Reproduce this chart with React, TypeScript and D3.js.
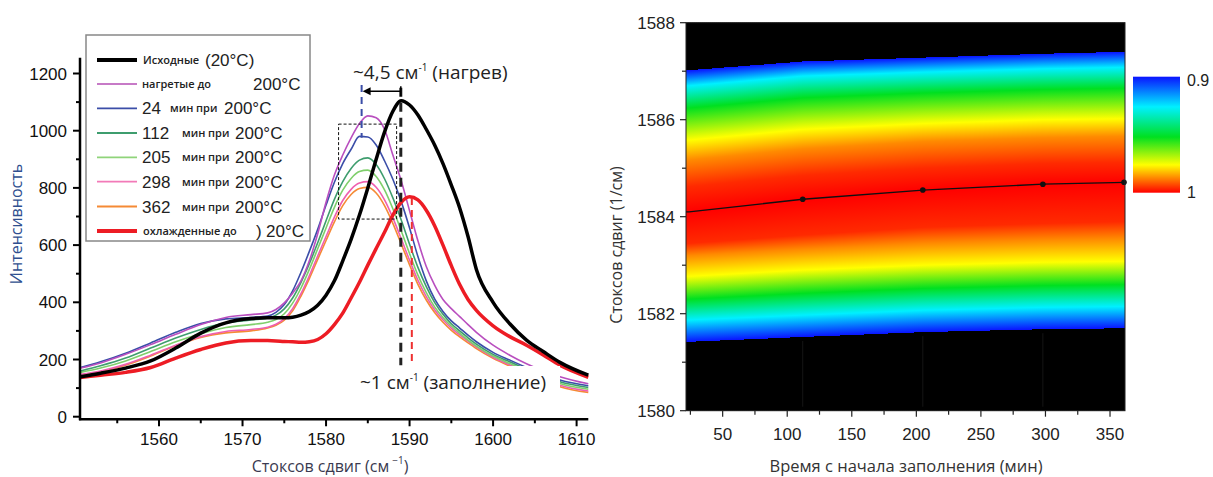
import React from "react";
import * as d3 from "d3";

// ---------- Left chart data (Raman spectra) ----------
const wavenumbers = [1550.6, 1553, 1556, 1559, 1562, 1565, 1568, 1571, 1573, 1574, 1575, 1576, 1577, 1578, 1579, 1580, 1581, 1582, 1583, 1584, 1585, 1586, 1587, 1588, 1589, 1590, 1591, 1592, 1593, 1594, 1595, 1596, 1597, 1598, 1600, 1602, 1604, 1606, 1608, 1611.4];
const intInitial = [140, 152, 170, 195, 240, 292, 328, 343, 346, 346, 346, 348, 355, 368, 390, 425, 475, 545, 620, 705, 800, 900, 995, 1068, 1105, 1090, 1055, 1005, 950, 885, 810, 730, 630, 515, 400, 325, 268, 228, 190, 145];
const intHeated = [170, 188, 218, 252, 288, 322, 347, 357, 363, 375, 398, 432, 475, 545, 640, 750, 845, 915, 975, 1025, 1052, 1045, 1005, 915, 825, 720, 615, 525, 460, 410, 378, 350, 322, 295, 250, 215, 185, 160, 140, 115];
const int24 = [172, 192, 222, 258, 295, 326, 342, 347, 352, 365, 392, 440, 505, 578, 655, 740, 820, 885, 935, 980, 978, 950, 895, 830, 752, 660, 560, 475, 412, 368, 335, 310, 285, 262, 225, 198, 172, 148, 128, 108];
const int112 = [160, 178, 205, 240, 275, 305, 328, 338, 345, 355, 377, 415, 470, 535, 608, 685, 760, 822, 868, 897, 905, 882, 832, 765, 688, 603, 522, 455, 400, 358, 325, 300, 276, 254, 218, 192, 166, 143, 122, 102];
const int205 = [155, 170, 195, 228, 262, 290, 312, 322, 330, 340, 360, 397, 450, 515, 587, 660, 732, 792, 833, 857, 862, 840, 793, 727, 650, 570, 495, 434, 384, 347, 317, 292, 268, 247, 212, 186, 161, 138, 116, 96];
const int298 = [148, 160, 183, 215, 250, 280, 298, 305, 313, 323, 343, 378, 430, 493, 562, 630, 698, 756, 795, 817, 822, 802, 758, 695, 622, 547, 477, 420, 374, 339, 310, 286, 264, 243, 208, 181, 157, 134, 110, 90];
const int362 = [143, 157, 180, 212, 248, 277, 293, 300, 310, 320, 338, 370, 422, 483, 550, 616, 681, 738, 777, 798, 802, 782, 738, 676, 604, 531, 463, 408, 364, 330, 302, 279, 258, 238, 204, 177, 153, 130, 105, 85];
const intCooled = [137, 145, 155, 172, 205, 235, 258, 266, 266, 265, 263, 262, 260, 262, 270, 290, 322, 362, 415, 470, 530, 588, 645, 705, 750, 769, 758, 722, 668, 600, 528, 462, 410, 372, 318, 280, 250, 216, 180, 138];

const leftYTicks = [0, 200, 400, 600, 800, 1000, 1200];
const leftYMinor = [100, 300, 500, 700, 900, 1100];
const leftXTicks = [1560, 1570, 1580, 1590, 1600, 1610];
const leftXMinor = [1555, 1565, 1575, 1585, 1595, 1605];

const legendNames = ["Исходные", "нагретые до", "мин при", "мин при", "мин при", "мин при", "мин при", "охлажденные до"];
const legendNumbers = ["", "", "24", "112", "205", "298", "362", ""];
const legendTemps = ["(20°C)", "200°C", "200°C", "200°C", "200°C", "200°C", "200°C", "20°C"];

// annotation positions (data space)
const heatPeak = 1584.26;
const initialPeak = 1588.95;
const cooledPeak = 1590.27;
const zoomBoxW = [1581.5, 1588.45];
const zoomBoxI = [691, 1023];

// ---------- Right chart data (normalized map) ----------
const heatTimes = [24, 112, 205, 298, 362];
const peakCenter = [1584.10, 1584.36, 1584.55, 1584.67, 1584.71];
const contourLevels = [0, 0.26, 0.52, 0.76, 0.87, 0.96];
const upperContours = [
  [1587.02, 1587.20, 1587.28, 1587.36, 1587.40],
  [1586.70, 1586.90, 1586.98, 1587.05, 1587.08],
  [1586.24, 1586.45, 1586.55, 1586.62, 1586.65],
  [1585.58, 1585.80, 1585.92, 1586.00, 1586.02],
  [1585.17, 1585.40, 1585.55, 1585.63, 1585.66],
  [1584.62, 1584.85, 1585.00, 1585.10, 1585.12],
];
const lowerContours = [
  [1581.42, 1581.52, 1581.62, 1581.68, 1581.70],
  [1581.87, 1581.97, 1582.07, 1582.13, 1582.15],
  [1582.30, 1582.42, 1582.52, 1582.58, 1582.60],
  [1582.77, 1582.90, 1583.00, 1583.06, 1583.08],
  [1583.20, 1583.33, 1583.45, 1583.52, 1583.55],
  [1583.45, 1583.62, 1583.78, 1583.86, 1583.90],
];
const rainbowPos = [0, 0.26, 0.52, 0.76, 0.87, 1];
const rainbowColors = ["#0a14ff", "#00f0ff", "#00e020", "#ffff00", "#ff8a00", "#ff0000"];
const rightXTicks = [50, 100, 150, 200, 250, 300, 350];
const rightXMinor = [25, 75, 125, 175, 225, 275, 325];
const rightYTicks = [1580, 1582, 1584, 1586, 1588];
const rightYMinor = [1581, 1583, 1585, 1587];
const colorbarLabels = ["0.9", "1"];

const tickFont = "'Liberation Sans', Arial, sans-serif";
const textFont = "'Open Sans', 'Noto Sans', sans-serif";

export default function App() {
  // ---- left scales
  const xL = d3.scaleLinear().domain([1550.6, 1611.4]).range([80.5, 588.3]);
  const yL = d3.scaleLinear().domain([0, 1200]).range([416.7, 73.5]);
  const axisY = yL(-9);
  const axisTop = yL(1255);

  const line = (vals: number[]) =>
    d3
      .line<number>()
      .x((_, i) => xL(wavenumbers[i]))
      .y((v) => yL(v))
      .curve(d3.curveMonotoneX)(vals) || "";

  const spectra = [
    { vals: int362, color: "#f58a35", w: 1.6 },
    { vals: int298, color: "#ef5fae", w: 1.6 },
    { vals: int205, color: "#7fcf6b", w: 1.6 },
    { vals: int112, color: "#3e9d6e", w: 1.6 },
    { vals: int24, color: "#3b4ea8", w: 1.6 },
    { vals: intHeated, color: "#b94fbf", w: 1.6 },
    { vals: intCooled, color: "#ed1c24", w: 3.5 },
    { vals: intInitial, color: "#000000", w: 3.5 },
  ];
  const legendStyle = [
    { color: "#000000", w: 4 },
    { color: "#c77ac7", w: 1.8 },
    { color: "#3b4ea8", w: 1.8 },
    { color: "#3e9d6e", w: 1.8 },
    { color: "#8fd47a", w: 1.8 },
    { color: "#f27ab8", w: 1.8 },
    { color: "#f58a35", w: 1.8 },
    { color: "#ed1c24", w: 4 },
  ];
  const legendRowY = [60, 84, 108.3, 133, 157.3, 181.7, 206.5, 231];
  const legendTempX = [205, 253, 224, 235, 235, 235, 235, 266];
  const legendNameX = [143, 142, 170, 182, 182, 182, 182, 143];

  // ---- right scales
  const xR = d3.scaleLinear().domain([21.6, 361.6]).range([686, 1125]);
  const yR = d3.scaleLinear().domain([1580, 1588]).range([410.7, 22.7]);
  const pTop = yR(1588);
  const pBot = yR(1580);
  const pH = pBot - pTop;
  const rainbow = d3
    .scaleLinear<string>()
    .domain(rainbowPos)
    .range(rainbowColors)
    .interpolate(d3.interpolateRgb);
  const tInterp = (arr: number[]) => d3.scaleLinear().domain(heatTimes).range(arr).clamp(true);
  const upperFns = upperContours.map(tInterp);
  const lowerFns = lowerContours.map(tInterp);
  const centerFn = tInterp(peakCenter);

  const stripW = 2;
  const strips: { x: number; stops: { o: number; c: string }[] }[] = [];
  for (let px = 686; px < 1125; px += stripW) {
    const t = xR.invert(px + stripW / 2);
    const off = (w: number) => Math.max(0, Math.min(1, (yR(w) - pTop) / pH));
    const stops: { o: number; c: string }[] = [];
    stops.push({ o: 0, c: "#000" });
    stops.push({ o: off(upperFns[0](t)), c: "#000" });
    contourLevels.forEach((lv, k) => stops.push({ o: off(upperFns[k](t)), c: rainbow(lv) }));
    stops.push({ o: off(centerFn(t)), c: rainbow(1) });
    for (let k = contourLevels.length - 1; k >= 0; k--) stops.push({ o: off(lowerFns[k](t)), c: rainbow(contourLevels[k]) });
    stops.push({ o: off(lowerFns[0](t)), c: "#000" });
    stops.push({ o: 1, c: "#000" });
    strips.push({ x: px, stops });
  }

  const centerLine =
    d3
      .line<number>()
      .x((t) => xR(t))
      .y((t) => yR(centerFn(t)))([xR.domain()[0], ...heatTimes.slice(0, 4), xR.domain()[1]]) || "";

  const cbX = 1133;
  const cbY0 = 76.7;
  const cbY1 = 192.7;

  return (
    <svg width={1213} height={477} style={{ position: "absolute", left: 0, top: 0, background: "#fff" }}>
      <defs>
        {strips.map((s, i) => (
          <linearGradient key={i} id={`hs${i}`} gradientUnits="userSpaceOnUse" x1={0} y1={pTop} x2={0} y2={pBot}>
            {s.stops.map((st, j) => (
              <stop key={j} offset={st.o} stopColor={st.c} />
            ))}
          </linearGradient>
        ))}
        <linearGradient id="cbar" x1={0} y1={0} x2={0} y2={1}>
          {rainbowPos.map((p, i) => (
            <stop key={i} offset={p} stopColor={rainbowColors[i]} />
          ))}
        </linearGradient>
      </defs>

      {/* ================= LEFT CHART ================= */}
      <g>
        {spectra.map((s, i) => (
          <path key={i} d={line(s.vals)} fill="none" stroke={s.color} strokeWidth={s.w} strokeLinejoin="round" />
        ))}

        {/* dashed zoom box */}
        <rect
          x={xL(zoomBoxW[0])}
          y={yL(zoomBoxI[1])}
          width={xL(zoomBoxW[1]) - xL(zoomBoxW[0])}
          height={yL(zoomBoxI[0]) - yL(zoomBoxI[1])}
          fill="none"
          stroke="#111"
          strokeWidth={1}
          strokeDasharray="3,2"
        />
        {/* peak markers */}
        <line x1={xL(heatPeak)} x2={xL(heatPeak)} y1={yL(1160)} y2={yL(975)} stroke="#3b4ea8" strokeWidth={2} strokeDasharray="7,5" />
        <line x1={xL(initialPeak)} x2={xL(initialPeak)} y1={yL(1150)} y2={yL(180)} stroke="#222" strokeWidth={3} strokeDasharray="9,6" />
        <line x1={xL(cooledPeak)} x2={xL(cooledPeak)} y1={yL(765)} y2={yL(180)} stroke="#ee3030" strokeWidth={2} strokeDasharray="7,5" />
        {/* arrow */}
        <line x1={xL(heatPeak) + 7} x2={xL(initialPeak)} y1={yL(1138)} y2={yL(1138)} stroke="#000" strokeWidth={1.5} />
        <path d={`M${xL(heatPeak) + 1},${yL(1138)} l8,-4 l0,8 z`} fill="#000" />
        <line x1={xL(initialPeak)} x2={xL(initialPeak)} y1={yL(1138) - 5} y2={yL(1138) + 5} stroke="#000" strokeWidth={1.5} />

        {/* annotation texts */}
        <text x={353} y={79} fontFamily={textFont} fontSize={19} fill="#222">
          ~4,5 см<tspan dy={-8} fontSize={10}>-1</tspan>
          <tspan dy={8}> (нагрев)</tspan>
        </text>
        <rect x={356} y={366} width={204} height={31} fill="#fff" />
        <text x={360} y={389} fontFamily={textFont} fontSize={19} fill="#222">
          ~1 см<tspan dy={-8} fontSize={10}>-1</tspan>
          <tspan dy={8}> (заполнение)</tspan>
        </text>

        {/* axes */}
        <line x1={80} x2={80} y1={axisTop} y2={axisY + 1} stroke="#000" strokeWidth={2.5} />
        <line x1={79} x2={588.3} y1={axisY} y2={axisY} stroke="#000" strokeWidth={2.5} />
        {leftYTicks.map((v) => (
          <g key={v}>
            <line x1={73} x2={80} y1={yL(v)} y2={yL(v)} stroke="#000" strokeWidth={2} />
            <text x={67} y={yL(v) + 6} textAnchor="end" fontFamily={tickFont} fontSize={17} fill="#111">
              {v}
            </text>
          </g>
        ))}
        {leftYMinor.map((v) => (
          <line key={v} x1={76} x2={80} y1={yL(v)} y2={yL(v)} stroke="#000" strokeWidth={2} />
        ))}
        {leftXTicks.map((v) => (
          <g key={v}>
            <line x1={xL(v)} x2={xL(v)} y1={axisY} y2={axisY + 7} stroke="#000" strokeWidth={2} />
            <text x={xL(v)} y={445} textAnchor="middle" fontFamily={tickFont} fontSize={17} fill="#111">
              {v}
            </text>
          </g>
        ))}
        {leftXMinor.map((v) => (
          <line key={v} x1={xL(v)} x2={xL(v)} y1={axisY} y2={axisY + 4} stroke="#000" strokeWidth={2} />
        ))}
        <text x={330} y={472} textAnchor="middle" fontFamily={textFont} fontSize={16} fill="#3a3a50">
          Стоксов сдвиг (см<tspan dx={3} dy={-8} fontSize={10}>−1</tspan>
          <tspan dy={8}>)</tspan>
        </text>
        <text transform="translate(22,224) rotate(-90)" textAnchor="middle" fontFamily={textFont} fontSize={16} fill="#2f4f8f">
          Интенсивность
        </text>

        {/* legend */}
        <rect x={86} y={35} width={224} height={206} fill="#fff" stroke="#888" strokeWidth={1.5} />
        {legendNames.map((name, i) => {
          const y = legendRowY[i];
          const st = legendStyle[i];
          return (
            <g key={i}>
              <line x1={97} x2={137} y1={y} y2={y} stroke={st.color} strokeWidth={st.w} />
              {legendNumbers[i] && (
                <text x={142} y={y + 6} fontFamily={tickFont} fontSize={17} fill="#222">
                  {legendNumbers[i]}
                </text>
              )}
              <text x={legendNameX[i]} y={y + 4} fontFamily={textFont} fontWeight={600} fontSize={11} fill="#222">
                {name}
              </text>
              {i === 7 && (
                <text x={256} y={y + 6} fontFamily={tickFont} fontSize={17} fill="#222">
                  )
                </text>
              )}
              <text x={legendTempX[i]} y={y + 6} fontFamily={tickFont} fontSize={17} fill="#222">
                {legendTemps[i]}
              </text>
            </g>
          );
        })}
      </g>

      {/* ================= RIGHT CHART ================= */}
      <g>
        <rect x={686} y={pTop} width={439} height={pH} fill="#000" />
        {strips.map((s, i) => (
          <rect key={i} x={s.x} y={pTop} width={Math.min(stripW + 0.6, 1125 - s.x)} height={pH} fill={`url(#hs${i})`} />
        ))}
        {heatTimes.slice(1, 4).map((t) => (
          <line key={t} x1={xR(t)} x2={xR(t)} y1={yR(lowerFns[0](t)) + 4} y2={pBot - 4} stroke="#151515" strokeWidth={1} />
        ))}
        <path d={centerLine} fill="none" stroke="#111" strokeWidth={1.3} />
        {heatTimes.slice(1).map((t) => (
          <circle key={t} cx={Math.min(xR(t), 1124)} cy={yR(centerFn(t))} r={2.8} fill="#111" />
        ))}

        {/* frame */}
        <rect x={686} y={pTop} width={439} height={pH} fill="none" stroke="#222" strokeWidth={1} />
        {rightYTicks.map((v) => (
          <g key={v}>
            <line x1={680} x2={686} y1={yR(v)} y2={yR(v)} stroke="#222" strokeWidth={1.2} />
            <text x={675} y={yR(v) + 6} textAnchor="end" fontFamily={tickFont} fontSize={17} fill="#222">
              {v}
            </text>
          </g>
        ))}
        {rightYMinor.map((v) => (
          <line key={v} x1={682} x2={686} y1={yR(v)} y2={yR(v)} stroke="#222" strokeWidth={1.2} />
        ))}
        {rightXTicks.map((v) => (
          <g key={v}>
            <line x1={xR(v)} x2={xR(v)} y1={pBot} y2={pBot + 6} stroke="#222" strokeWidth={1.2} />
            <text x={xR(v)} y={440} textAnchor="middle" fontFamily={tickFont} fontSize={17} fill="#222">
              {v}
            </text>
          </g>
        ))}
        {rightXMinor.map((v) => (
          <line key={v} x1={xR(v)} x2={xR(v)} y1={pBot} y2={pBot + 4} stroke="#222" strokeWidth={1.2} />
        ))}
        <text x={906} y={472} textAnchor="middle" fontFamily={textFont} fontSize={16.5} fill="#333">
          Время с начала заполнения (мин)
        </text>
        <text transform="translate(622,245) rotate(-90)" textAnchor="middle" fontFamily={textFont} fontSize={16} fill="#333">
          Стоксов сдвиг (1/см)
        </text>

        {/* colorbar */}
        <rect x={cbX} y={cbY0} width={47} height={cbY1 - cbY0} fill="url(#cbar)" />
        <text x={1187} y={86} fontFamily={tickFont} fontSize={16} fill="#222">
          {colorbarLabels[0]}
        </text>
        <text x={1187} y={198} fontFamily={tickFont} fontSize={16} fill="#222">
          {colorbarLabels[1]}
        </text>
      </g>
    </svg>
  );
}
